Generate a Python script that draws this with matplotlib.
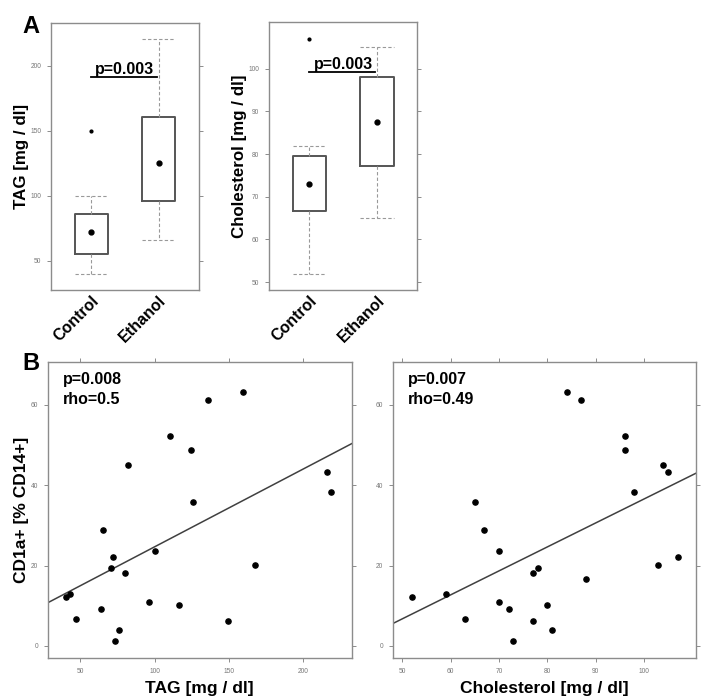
import numpy as np
import matplotlib
matplotlib.use('Agg')
import matplotlib.pyplot as plt

plt.rcParams['font.family'] = ['Liberation Sans', 'DejaVu Sans']

# panel A: box plot summaries (median shown as dot)
groups = ['Control', 'Ethanol']
tag_box = {'whislo': [40, 65.5], 'q1': [55.4, 96.2], 'med': [72.2, 125.2],
           'q3': [85.7, 160.3], 'whishi': [100, 220], 'fliers': [[150], []]}
chol_box = {'whislo': [52, 65], 'q1': [66.7, 77.2], 'med': [73.1, 87.5],
            'q3': [79.6, 98.0], 'whishi': [82, 105], 'fliers': [[107], []]}
p_box = ['p=0.003', 'p=0.003']

# panel B: per subject values (nan = not measured)
cd1a = [12.1, 12.9, 6.8, 9.1, 28.8, 19.3, 22.2, 1.3, 3.9, 18.2, 45.0, 11.0,
        23.6, 52.3, 10.1, 48.7, 35.9, 61.2, 6.1, 63.2, 20.1, 43.2, 38.3, 16.7]
tag = [40.6, 43.3, 46.9, 64.3, 65.4, 70.5, 72.3, 73.4, 76.1, 80.1, 81.9, 96.0,
       100.0, 110.7, 116.7, 124.6, 125.9, 135.7, 149.6, 159.4, 167.4, 216.1, 219.0, np.nan]
chol = [52, 59, 63, 72, 67, 78, 107, 73, 81, 77, 104, 70,
        70, 96, 80, 96, 65, 87, 77, 84, 103, 105, 98, 88]
stats_b = [('p=0.008', 'rho=0.5'), ('p=0.007', 'rho=0.49')]

GRAY = '#8c8c8c'
TICKC = '#777777'


def frame(ax, top=True, bottom=True):
    for s in ax.spines.values():
        s.set_color(GRAY)
        s.set_linewidth(1.0)
    ax.tick_params(direction='out', length=3, width=0.7, color=GRAY,
                   labelcolor=TICKC, labelsize=4.8, pad=4,
                   right=True, top=top, bottom=bottom)


fig = plt.figure(figsize=(7.02, 7.0), dpi=100)

axA1 = fig.add_axes([0.0726, 0.5857, 0.2109, 0.3813])
axA2 = fig.add_axes([0.3832, 0.5857, 0.2112, 0.3823])
axB1 = fig.add_axes([0.0679, 0.0596, 0.4331, 0.4228])
axB2 = fig.add_axes([0.5594, 0.0596, 0.4321, 0.4228])

boxes = [(axA1, tag_box, 'TAG [mg / dl]', (27.4, 232.6), [50, 100, 150, 200], (193.7, 190.8)),
         (axA2, chol_box, 'Cholesterol [mg / dl]', (48.15, 110.85), [50, 60, 70, 80, 90, 100], (100.0, 99.3))]

for i, (ax, b, lab, ylim, yt, (ty, ly)) in enumerate(boxes):
    st = []
    for k in range(2):
        st.append(dict(whislo=b['whislo'][k], q1=b['q1'][k], med=b['med'][k],
                       q3=b['q3'][k], whishi=b['whishi'][k], fliers=b['fliers'][k]))
    ax.bxp(st, positions=[1, 2], widths=0.5, capwidths=[0.5, 0.5],
           boxprops=dict(color='#555555', linewidth=1.4),
           whiskerprops=dict(color='#999999', linewidth=0.8, linestyle=(0, (3, 2))),
           capprops=dict(color='#999999', linewidth=0.8, linestyle=(0, (3, 2))),
           medianprops=dict(linewidth=0),
           flierprops=dict(marker='o', markersize=2, markerfacecolor='black',
                           markeredgecolor='black'))
    ax.plot([1, 2], b['med'], 'o', color='black', markersize=3.5, linestyle='none')
    ax.set_xlim(0.4, 2.6)
    ax.set_ylim(*ylim)
    ax.set_yticks(yt)
    ax.set_xticks([1, 2])
    frame(ax, top=False, bottom=False)
    ax.tick_params(axis='x', length=0, pad=2)
    ax.set_xticklabels(groups, rotation=45, ha='right', va='top',
                       rotation_mode='anchor', fontsize=11.5, fontweight='bold',
                       color='black')
    ax.set_ylabel(lab, fontsize=12.2, fontweight='bold', labelpad=1)
    ax.text(1.5, ty, p_box[i], ha='center', va='baseline', fontsize=11.5,
            fontweight='bold')
    ax.plot([0.99, 1.975], [ly, ly], color='black', linewidth=1.3)

scat = [(axB1, tag, 'TAG [mg / dl]', (28.1, 232.6), [50, 100, 150, 200]),
        (axB2, chol, 'Cholesterol [mg / dl]', (48.0, 110.8), [50, 60, 70, 80, 90, 100])]

for i, (ax, xv, lab, xlim, xt) in enumerate(scat):
    x = np.array(xv, dtype=float)
    y = np.array(cd1a, dtype=float)
    ok = ~np.isnan(x)
    ax.scatter(x[ok], y[ok], s=14, color='black', zorder=3)
    m, c = np.polyfit(x[ok], y[ok], 1)
    xs = np.array(xlim)
    ax.plot(xs, m * xs + c, color='#404040', linewidth=1.1)
    ax.set_xlim(*xlim)
    ax.set_ylim(-3.1, 70.6)
    ax.set_xticks(xt)
    ax.set_yticks([0, 20, 40, 60])
    frame(ax)
    ax.set_xlabel(lab, fontsize=12.5, fontweight='bold', labelpad=4)
    ax.text(0.049, 0.943, stats_b[i][0], transform=ax.transAxes, ha='left',
            va='center', fontsize=11.5, fontweight='bold')
    ax.text(0.049, 0.873, stats_b[i][1], transform=ax.transAxes, ha='left',
            va='center', fontsize=11.5, fontweight='bold')

axB1.set_ylabel('CD1a+ [% CD14+]', fontsize=12.5, fontweight='bold', labelpad=1)

fig.text(22 / 702, 1 - 33 / 700, 'A', fontsize=17, fontweight='bold')
fig.text(22 / 702, 1 - 370 / 700, 'B', fontsize=17, fontweight='bold')

fig.savefig('out.png', dpi=100)
